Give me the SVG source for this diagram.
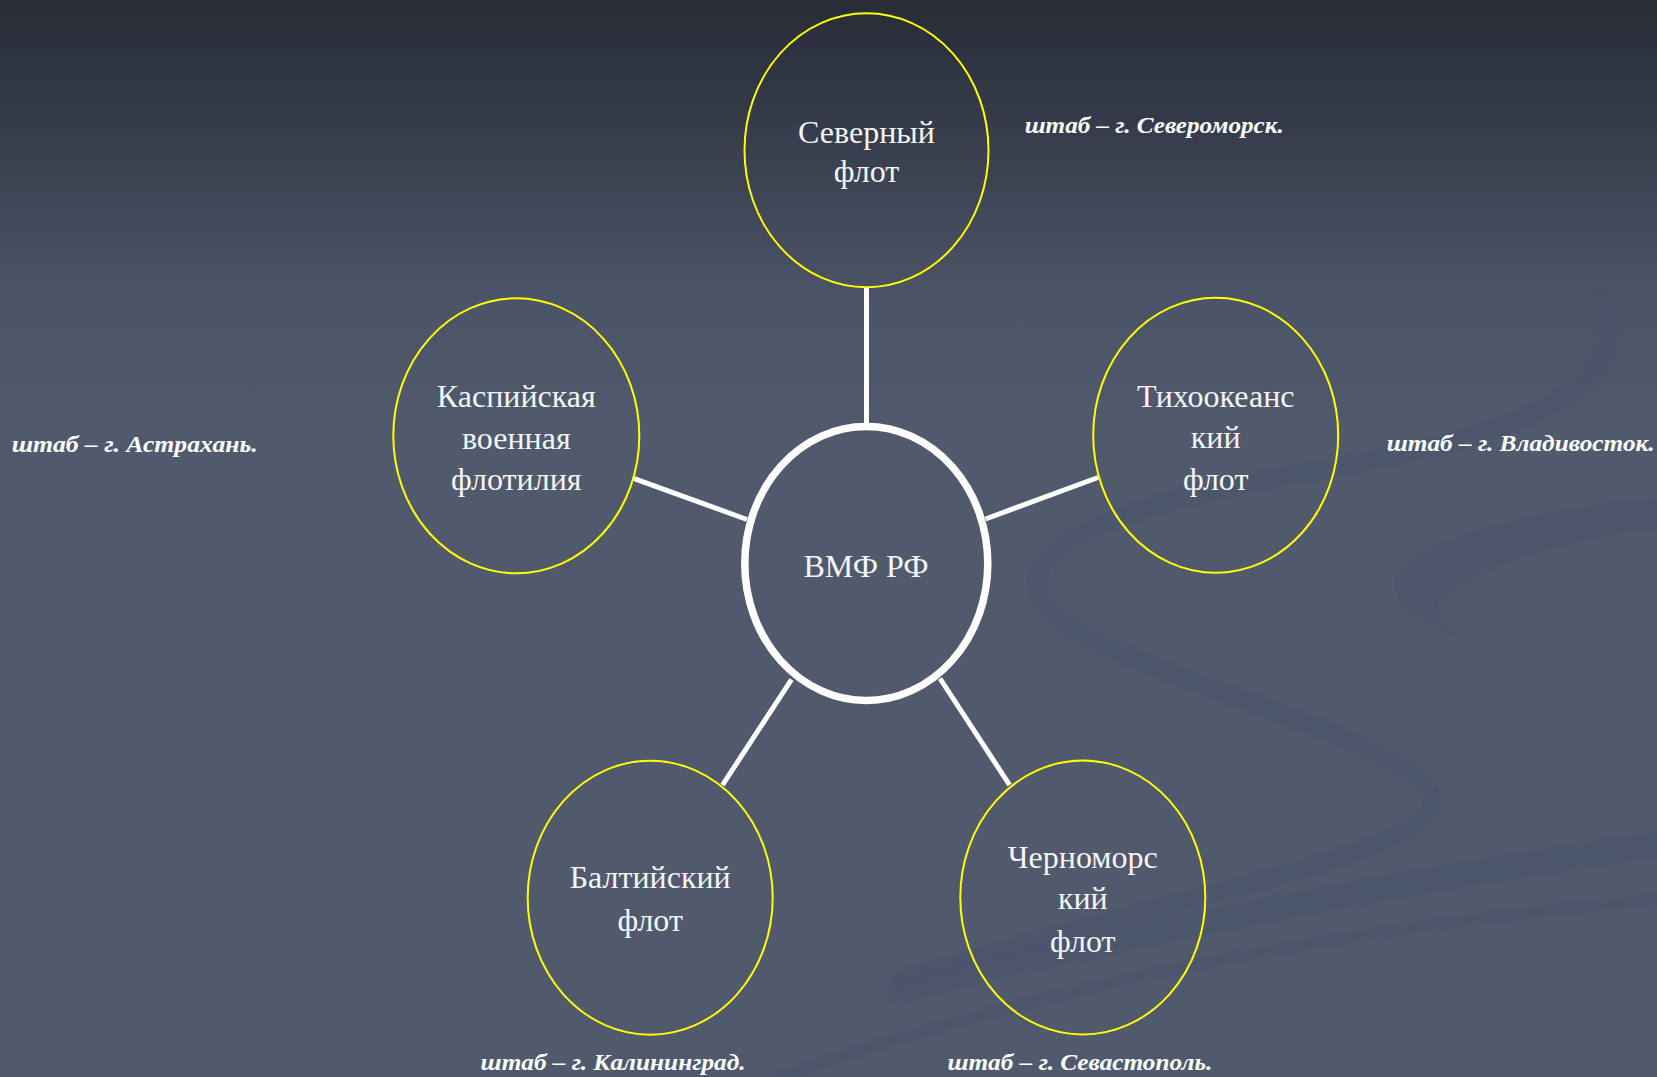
<svg xmlns="http://www.w3.org/2000/svg" width="1657" height="1077" viewBox="0 0 1657 1077">
  <defs>
    <linearGradient id="bg" x1="0" y1="0" x2="0" y2="1077" gradientUnits="userSpaceOnUse">
      <stop offset="0" stop-color="#282c37"/>
      <stop offset="0.12" stop-color="#363c4b"/>
      <stop offset="0.28" stop-color="#4c5467"/>
      <stop offset="0.4" stop-color="#505a6c"/>
      <stop offset="1" stop-color="#505a6c"/>
    </linearGradient>
    <style>
      .fleet { fill: none; stroke: #ffff00; stroke-width: 2; }
      .hub { fill: none; stroke: #ffffff; stroke-width: 7.5; }
      .conn { stroke: #ffffff; stroke-width: 5; fill: none; }
      .nt { font-family: "Liberation Serif", "Times New Roman", serif; font-size: 32px; fill: #f4f4f4; text-anchor: middle; }
      .hq { font-family: "Liberation Serif", "Times New Roman", serif; font-size: 24px; font-weight: bold; font-style: italic; fill: #ffffff; }
      .sw { fill: #48506a; opacity: 0.35; }
      .swl { fill: none; stroke: #48506a; opacity: 0.28; stroke-linecap: round; }
    </style>
  </defs>
  <rect x="0" y="0" width="1657" height="1077" fill="url(#bg)"/>
  <g id="decor">
    <path class="swl" stroke-width="20" d="M1598 300 C1640 370 1560 430 1320 470 C1080 510 990 560 1060 620 C1140 680 1420 740 1432 800 C1440 850 1200 890 900 980"/>
    <path class="sw" d="M1657 498 C1520 510 1400 545 1395 582 C1392 612 1440 632 1475 642 C1445 625 1430 612 1440 602 C1470 570 1560 540 1657 528 Z"/>
    <path class="swl" stroke-width="26" d="M900 990 C1100 940 1400 880 1657 845"/>
    <path class="swl" stroke-width="12" d="M780 1077 C1000 1000 1300 930 1657 900"/>
  </g>
  <g id="connectors">
    <line class="conn" x1="866.5" y1="288" x2="866.5" y2="424"/>
    <line class="conn" x1="633.5" y1="478.3" x2="747" y2="519.5"/>
    <line class="conn" x1="985.5" y1="519" x2="1098" y2="477.5"/>
    <line class="conn" x1="791.5" y1="679.5" x2="722.5" y2="785"/>
    <line class="conn" x1="940" y1="678.5" x2="1009.6" y2="785"/>
  </g>
  <g id="node-hub">
    <ellipse class="hub" cx="866.3" cy="563.5" rx="121.5" ry="137"/>
    <text class="nt" x="866" y="576.5">ВМФ РФ</text>
  </g>
  <g id="node-north">
    <ellipse class="fleet" cx="866.5" cy="150.3" rx="122" ry="137"/>
    <text class="nt" x="866.5" y="143.3">Северный</text>
    <text class="nt" x="866.5" y="181.7">флот</text>
  </g>
  <g id="node-caspian">
    <ellipse class="fleet" cx="516.3" cy="435.8" rx="123" ry="137.5"/>
    <text class="nt" x="516.3" y="406.7">Каспийская</text>
    <text class="nt" x="516.3" y="449">военная</text>
    <text class="nt" x="516.3" y="490">флотилия</text>
  </g>
  <g id="node-pacific">
    <ellipse class="fleet" cx="1215.7" cy="435.3" rx="122.5" ry="137.5"/>
    <text class="nt" x="1215.7" y="406.6">Тихоокеанс</text>
    <text class="nt" x="1215.7" y="448">кий</text>
    <text class="nt" x="1215.7" y="490">флот</text>
  </g>
  <g id="node-baltic">
    <ellipse class="fleet" cx="650.2" cy="897.7" rx="122.5" ry="137"/>
    <text class="nt" x="650.2" y="888.3">Балтийский</text>
    <text class="nt" x="650.2" y="930.7">флот</text>
  </g>
  <g id="node-black">
    <ellipse class="fleet" cx="1082.8" cy="897.5" rx="122.5" ry="137"/>
    <text class="nt" x="1082.8" y="868.3">Черноморс</text>
    <text class="nt" x="1082.8" y="909.3">кий</text>
    <text class="nt" x="1082.8" y="951.7">флот</text>
  </g>
  <g id="labels">
    <text class="hq" x="1024.7" y="133.3" textLength="259" lengthAdjust="spacingAndGlyphs">штаб – г. Североморск.</text>
    <text class="hq" x="11.7" y="451.5" textLength="246" lengthAdjust="spacingAndGlyphs">штаб – г. Астрахань.</text>
    <text class="hq" x="1386.7" y="450.5" textLength="268" lengthAdjust="spacingAndGlyphs">штаб – г. Владивосток.</text>
    <text class="hq" x="480.6" y="1070" textLength="265" lengthAdjust="spacingAndGlyphs">штаб – г. Калининград.</text>
    <text class="hq" x="947.4" y="1070" textLength="265" lengthAdjust="spacingAndGlyphs">штаб – г. Севастополь.</text>
  </g>
</svg>
